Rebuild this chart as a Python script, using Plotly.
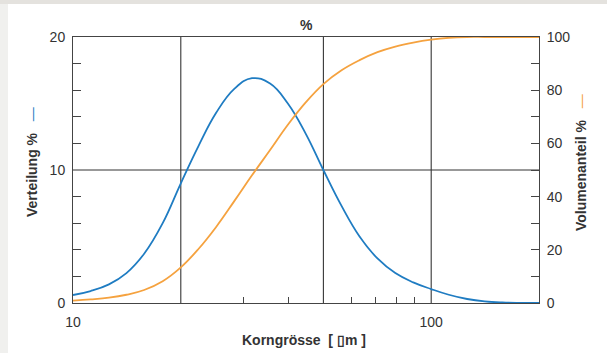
import plotly.graph_objects as go
import math

# Data (particle size in µm)
size_um = [10, 11.2, 12.6, 14.1, 15.8, 17.8, 20, 22.4, 25.1, 28.2, 31.6, 35.5, 39.8, 44.7, 50,
           56.2, 63.1, 70.8, 79.4, 89.1, 100, 112, 126, 141, 158, 178, 200]
verteilung = [0.6, 0.9, 1.4, 2.25, 3.7, 6.0, 9.0, 11.8, 14.3, 16.1, 16.9, 16.5, 15.0, 12.7, 10.0,
              7.3, 5.0, 3.35, 2.25, 1.55, 1.05, 0.62, 0.3, 0.12, 0.04, 0.01, 0.0]
volumenanteil = [0.9, 1.35, 2.0, 3.1, 4.9, 8.2, 13.4, 20.3, 28.6, 38.3, 48.0, 57.5, 67.0, 75.5, 82.3,
                 87.5, 91.3, 94.3, 96.4, 97.9, 99.0, 99.7, 100, 100, 100, 100, 100]

x_ticks = [10, 100]
x_minor = [30, 40, 60, 70, 80, 90]
x_grid = [20, 50, 100]
y_ticks = [0, 10, 20]
y_minor = [2, 4, 6, 8, 12, 14, 16, 18]
y2_ticks = [0, 20, 40, 60, 80, 100]
y2_minor = [10, 30, 50, 70, 90]

BLUE = "#1f7cc2"
ORANGE = "#f5a23f"
AX = "#444444"
TXT = "#333333"
FONT = "Liberation Sans, Arial, sans-serif"

fig = go.Figure()
fig.add_trace(go.Scatter(x=size_um, y=verteilung, mode="lines",
                         line=dict(color=BLUE, width=1.8, shape="spline", smoothing=1.2),
                         yaxis="y", showlegend=False, hoverinfo="skip"))
fig.add_trace(go.Scatter(x=size_um, y=volumenanteil, mode="lines",
                         line=dict(color=ORANGE, width=1.8, shape="spline", smoothing=1.2),
                         yaxis="y2", showlegend=False, hoverinfo="skip"))

W, H = 607, 353
L, R, T, B = 73, 68, 37, 50
pw, ph = W - L - R, H - T - B
def px2x(px): return (px - L) / pw
def py2y(py): return (H - B - py) / ph

shapes = []
for g in x_grid:
    shapes.append(dict(type="line", xref="x", yref="paper", x0=g, x1=g, y0=0, y1=1,
                       line=dict(color="#222222", width=1), layer="below"))
shapes.append(dict(type="line", xref="paper", yref="y", x0=0, x1=1, y0=10, y1=10,
                   line=dict(color="#333333", width=1), layer="below"))
# light grey page border strips from the screenshot
shapes.append(dict(type="rect", xref="paper", yref="paper", x0=px2x(0), x1=px2x(8), y0=py2y(H), y1=py2y(0),
                   fillcolor="#f0f0ee", line=dict(width=0), layer="below"))
shapes.append(dict(type="rect", xref="paper", yref="paper", x0=px2x(0), x1=px2x(W), y0=py2y(4), y1=py2y(0),
                   fillcolor="#e4e2de", line=dict(width=0), layer="below"))

tickfont = dict(family=FONT, size=14, color=TXT)

fig.update_layout(
    width=W, height=H,
    margin=dict(l=L, r=R, t=T, b=B),
    paper_bgcolor="white", plot_bgcolor="white",
    shapes=shapes,
    xaxis=dict(type="log", range=[1, math.log10(200)], tickvals=x_ticks, ticktext=[str(v) for v in x_ticks],
               ticks="", showgrid=False, zeroline=False, showline=True, linecolor=AX, linewidth=1, mirror=True,
               tickfont=tickfont, ticklabelstandoff=6,
               minor=dict(tickvals=x_minor, ticks="inside", ticklen=6, tickcolor=AX, showgrid=False)),
    yaxis=dict(range=[0, 20], tickvals=y_ticks, ticks="", showgrid=False, zeroline=False,
               showline=True, linecolor=AX, linewidth=1, tickfont=tickfont, ticklabelstandoff=4,
               minor=dict(tickvals=y_minor, ticks="inside", ticklen=8, tickcolor=AX, showgrid=False)),
    yaxis2=dict(range=[0, 100], tickvals=y2_ticks, overlaying="y", side="right", ticks="inside", ticklen=8,
                tickcolor=AX, showgrid=False, zeroline=False, showline=True, linecolor=AX, linewidth=1,
                tickfont=tickfont, ticklabelstandoff=4,
                minor=dict(tickvals=y2_minor, ticks="inside", ticklen=8, tickcolor=AX, showgrid=False)),
    annotations=[
        dict(text="<b>%</b>", xref="paper", yref="paper", x=0.5, y=py2y(25), showarrow=False,
             xanchor="center", yanchor="middle", font=dict(family=FONT, size=14, color=TXT)),
        dict(text="<b>Korngrösse  [ ▯m ]</b>", xref="paper", yref="paper", x=px2x(304), y=py2y(340),
             showarrow=False, xanchor="center", yanchor="middle", font=dict(family=FONT, size=14, color=TXT)),
        dict(text=f"<b>Verteilung %</b>   <span style='color:{BLUE}'>—</span>", xref="paper", yref="paper",
             x=px2x(32), y=py2y(162), textangle=-90, showarrow=False, xanchor="center", yanchor="middle",
             font=dict(family=FONT, size=14, color=TXT)),
        dict(text=f"<b>Volumenanteil %</b>   <span style='color:{ORANGE}'>—</span>", xref="paper", yref="paper",
             x=px2x(581), y=py2y(163), textangle=-90, showarrow=False, xanchor="center", yanchor="middle",
             font=dict(family=FONT, size=14, color=TXT)),
    ],
)

fig.write_html("out.html", config={"displayModeBar": False},
               post_script="document.body.style.margin='0px';")
